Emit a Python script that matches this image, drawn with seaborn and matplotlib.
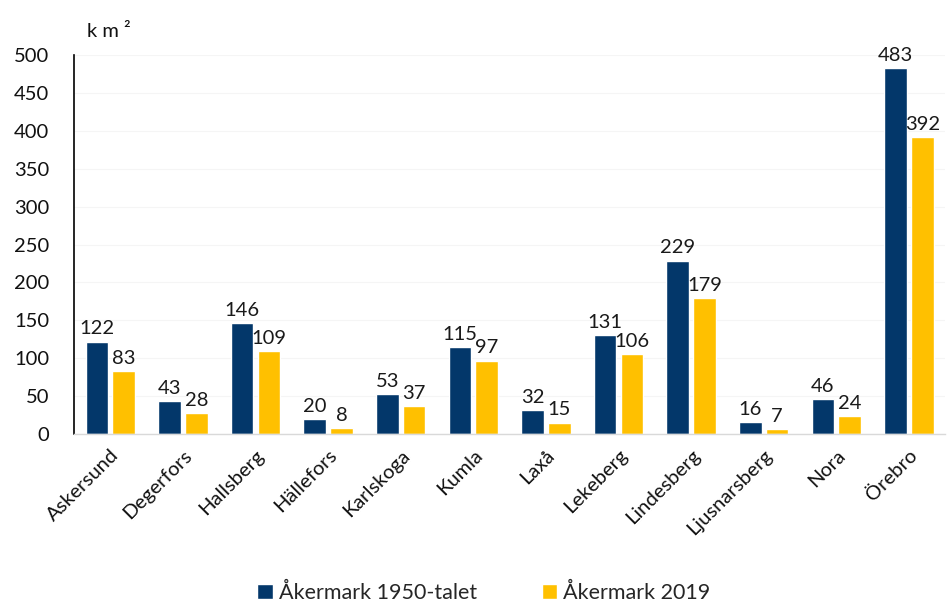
import matplotlib
matplotlib.use("Agg")
import matplotlib.pyplot as plt
import seaborn as sns
import pandas as pd

kommuner = ["Askersund", "Degerfors", "Hallsberg", "Hällefors", "Karlskoga", "Kumla",
            "Laxå", "Lekeberg", "Lindesberg", "Ljusnarsberg", "Nora", "Örebro"]
akermark_1950 = [122, 43, 146, 20, 53, 115, 32, 131, 229, 16, 46, 483]
akermark_2019 = [83, 28, 109, 8, 37, 97, 15, 106, 179, 7, 24, 392]
serie_namn = ["Åkermark 1950-talet", "Åkermark 2019"]
y_ticks = list(range(0, 501, 50))

sns.set_theme(style="white")
plt.rcParams['font.family'] = ['Lato', 'DejaVu Sans']

df = pd.DataFrame({
    "Kommun": kommuner * 2,
    "Serie": [serie_namn[0]] * len(kommuner) + [serie_namn[1]] * len(kommuner),
    "Värde": akermark_1950 + akermark_2019,
})

fig = plt.figure(figsize=(9.49, 6.07), dpi=100)
ax = fig.add_axes([0.078, 0.285, 0.918, 0.624])
palette = {serie_namn[0]: "#03376A", serie_namn[1]: "#FFC000"}
sns.barplot(data=df, x="Kommun", y="Värde", hue="Serie", palette=palette,
            width=0.74, gap=0.16, ax=ax, legend=True, saturation=1)

for c in ax.containers:
    ax.bar_label(c, fmt="%g", padding=3, fontsize=14.5, color="#1a1a1a")

ax.set_ylim(0, 500)
ax.set_xlim(-0.5, 11.5)
ax.set_yticks(y_ticks)
ax.tick_params(axis='y', labelsize=14.5, length=0, pad=18, colors="#111111")
ax.tick_params(axis='x', labelsize=14.5, length=0, pad=9, colors="#111111")
plt.setp(ax.get_xticklabels(), rotation=45, ha="right", rotation_mode="anchor")
ax.set_xlabel("")
ax.set_ylabel("")
ax.yaxis.grid(True, color="#f5f5f5", linewidth=0.8)
ax.set_axisbelow(True)
for s in ["top", "right"]:
    ax.spines[s].set_visible(False)
ax.spines["left"].set_color("#000000")
ax.spines["left"].set_linewidth(1.2)
ax.spines["bottom"].set_color("#d9d9d9")
ax.spines["bottom"].set_linewidth(1.0)

fig.text(0.092, 0.948, "k m ²", fontsize=14.5, ha="left", va="center", color="#111111")

h, l = ax.get_legend_handles_labels()
ax.legend_.remove()
fig.legend(h, l, loc="lower center", bbox_to_anchor=(0.51, -0.026), ncol=2, frameon=False,
           fontsize=15.5, handlelength=0.7, handleheight=0.7, handletextpad=0.3,
           columnspacing=3.0)

fig.savefig("out.png", dpi=100)
